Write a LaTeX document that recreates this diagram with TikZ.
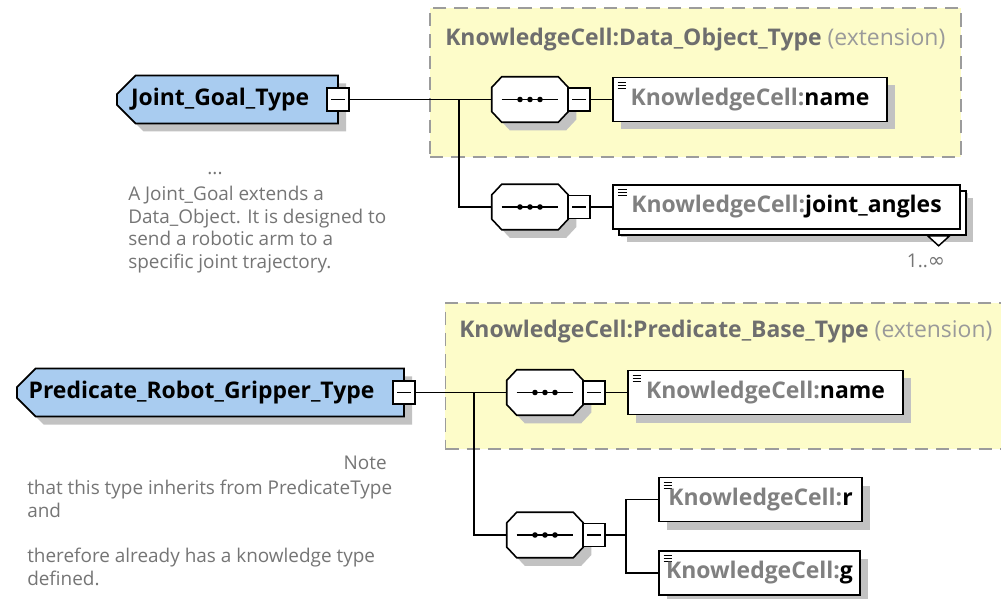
\documentclass[tikz,border=0pt]{standalone}
\usepackage{fontspec}
\setmainfont{Open Sans}
\newfontfamily\symfont{DejaVu Sans}
\usetikzlibrary{shapes.misc,shadows}
\definecolor{ctblue}{HTML}{A9CCF0}
\definecolor{extyellow}{HTML}{FDFCC9}
\definecolor{kgray}{HTML}{808080}
\definecolor{titlegray}{HTML}{6E6E6E}
\definecolor{extgray}{HTML}{9A9A9A}
\definecolor{notegray}{HTML}{757575}
\definecolor{shgray}{HTML}{C2C2C2}
\definecolor{dashgray}{HTML}{9C9C9C}
\tikzset{
  sh/.style={drop shadow={shadow xshift=6pt, shadow yshift=-6pt, fill=shgray, opacity=1}},
  ctype/.style={chamfered rectangle, chamfered rectangle corners={north west,south west},
    chamfered rectangle sep=7pt, draw=black, line width=1.3pt, fill=ctblue, sh,
    minimum height=36pt, inner sep=0pt, font=\fontsize{17.2}{19}\selectfont\bfseries},
  seqbox/.style={rectangle, minimum width=57pt, minimum height=33.75pt, inner sep=0pt},
  seqshadow/.style={fill=shgray},
  seqoutline/.style={draw=black, line width=1.2pt, fill=white},
  minusbox/.style={rectangle, draw=black, line width=1.1pt, fill=white,
    minimum width=16.5pt, minimum height=17pt, inner sep=0pt,
    path picture={\draw[black, line width=0.9pt] ([xshift=3pt]path picture bounding box.west) -- ([xshift=-3pt]path picture bounding box.east);}},
  elem/.style={rectangle, draw=black, line width=1.2pt, fill=white, sh,
    minimum height=33pt, inner sep=0pt, font=\fontsize{17.2}{19}\selectfont\bfseries,
    path picture={
      \foreach \k in {0,1,2}
        \draw[black, line width=0.7pt] ([shift={(3.5pt,-3.5pt-\k*2.2pt)}]path picture bounding box.north west) -- ++(6.5pt,0);
    }},
  multielem/.style={elem, drop shadow={shadow xshift=10pt, shadow yshift=-10pt, fill=shgray, opacity=1},
    copy shadow={shadow xshift=4.5pt, shadow yshift=-4.5pt, fill=white, draw=black, line width=1.2pt}},
  extbox/.style={rectangle, draw=dashgray, line width=1.1pt, dash pattern=on 10pt off 6pt, fill=extyellow, inner sep=0pt},
  exttitle/.style={anchor=west, inner sep=0pt, text=titlegray, font=\fontsize{17.2}{19}\selectfont},
  note/.style={inner sep=0pt, text=notegray, font=\fontsize{14.2}{17}\selectfont, align=left},
  conn/.style={draw=black, line width=1.1pt}
}
\newcommand{\kc}[1]{\textcolor{kgray}{KnowledgeCell:}#1}
% octagon outline around node #1, shifted by (#2,#3), with options #4
\newcommand{\octo}[4]{%
  \path[#4] ([shift={({7.5pt+#2},{#3})}]#1.north west) -- ([shift={({-7.5pt+#2},{#3})}]#1.north east)
    -- ([shift={({#2},{-8pt+#3})}]#1.north east) -- ([shift={({#2},{8pt+#3})}]#1.south east)
    -- ([shift={({-7.5pt+#2},{#3})}]#1.south east) -- ([shift={({7.5pt+#2},{#3})}]#1.south west)
    -- ([shift={({#2},{8pt+#3})}]#1.south west) -- ([shift={({#2},{-8pt+#3})}]#1.north west) -- cycle;}
% sequence compositor node
\newcommand{\seqnode}[2]{%
  \node[seqbox] (#1) at (#2) {};
  \octo{#1}{6pt}{-6pt}{seqshadow}
  \octo{#1}{0pt}{0pt}{seqoutline}
  \draw[line width=1pt] ([xshift=7.5pt]#1.west) -- ([xshift=-8pt]#1.east);
  \foreach \dx in {-7.5pt,0pt,7.5pt} \fill ([xshift=\dx]#1.center) circle (2.1pt);}
\begin{document}
\begin{tikzpicture}[x=0.75pt,y=-0.75pt]
\useasboundingbox[fill=white] (0,0) rectangle (1001,599);

% extension containers
\node[extbox, minimum width=398.25pt, minimum height=111.75pt] (ext1) at (695.5,82.5) {};
\node[exttitle] (ext1t) at (445,40) {\textbf{KnowledgeCell:Data\_Object\_Type} \textcolor{extgray}{(extension)}};
\node[extbox, minimum width=430pt, minimum height=109.5pt] (ext2) at (732,376) {};
\node[exttitle] (ext2t) at (459,332) {\textbf{KnowledgeCell:Predicate\_Base\_Type} \textcolor{extgray}{(extension)}};

% top diagram
\node[ctype, minimum width=165.75pt] (jg) at (227.5,99.5) {Joint\_Goal\_Type\hspace*{11pt}};
\node[minusbox] (jgm) at (338,99.5) {};
\seqnode{seq1}{530,99.5}
\node[minusbox] (m1) at (579,99.5) {};
\node[elem, minimum width=205.5pt] (name1) at (750,99.5) {\kc{name}};
\seqnode{seq2}{530,207}
\node[minusbox] (m2) at (579,207) {};
\node[multielem, minimum width=260pt] (ja) at (786.5,207) {\kc{joint\_angles}};
\coordinate (j1) at (459,99.5);

\draw[conn] (jgm.east) -- (seq1.west);
\draw[conn] (j1) |- (seq2.west);
\draw[conn] (m1.east) -- (name1.west);
\draw[conn] (m2.east) -- (ja.west);
\draw[line width=1.1pt, fill=white] ([shift={(-33,6)}]ja.south east) -- ([shift={(-11,6)}]ja.south east) -- ([shift={(-22,16)}]ja.south east) -- cycle;
\node[note, font=\fontsize{14.2}{16}\selectfont] (mult) at (926,261) {1..{\symfont\fontsize{15.5}{16}\selectfont ∞}};

\node[note] (dots1) at (215,174) {...};
\node[note, anchor=north west] (note1) at (128,186) {A Joint\_Goal extends a\\Data\_Object. It is designed to\\send a robotic arm to a\\specific joint trajectory.};

% bottom diagram
\node[ctype, minimum width=290.25pt] (prg) at (210.5,392.5) {Predicate\_Robot\_Gripper\_Type\hspace*{13.5pt}};
\node[minusbox] (prgm) at (404,392.5) {};
\seqnode{seq3}{545,392.5}
\node[minusbox] (m3) at (594,392.5) {};
\node[elem, minimum width=206.25pt] (name2) at (765.5,392.5) {\kc{name}};
\seqnode{seq4}{545,535}
\node[minusbox] (m4) at (594,535) {};
\node[elem, minimum width=152.25pt] (r) at (760.5,499.5) {\kc{r}};
\node[elem, minimum width=150.75pt] (g) at (759.5,573) {\kc{g}};
\coordinate (j2) at (474,392.5);
\coordinate (j3) at (626,535);

\draw[conn] (prgm.east) -- (seq3.west);
\draw[conn] (j2) |- (seq4.west);
\draw[conn] (m3.east) -- (name2.west);
\draw[conn] (m4.east) -- (j3);
\draw[conn] (j3) |- (r.west);
\draw[conn] (j3) |- (g.west);

\node[note, anchor=north east] (note2a) at (387,456) {Note};
\node[note, anchor=north west] (note2) at (27,480) {that this type inherits from PredicateType\\and\\[17pt]therefore already has a knowledge type\\defined.};
\end{tikzpicture}
\end{document}
